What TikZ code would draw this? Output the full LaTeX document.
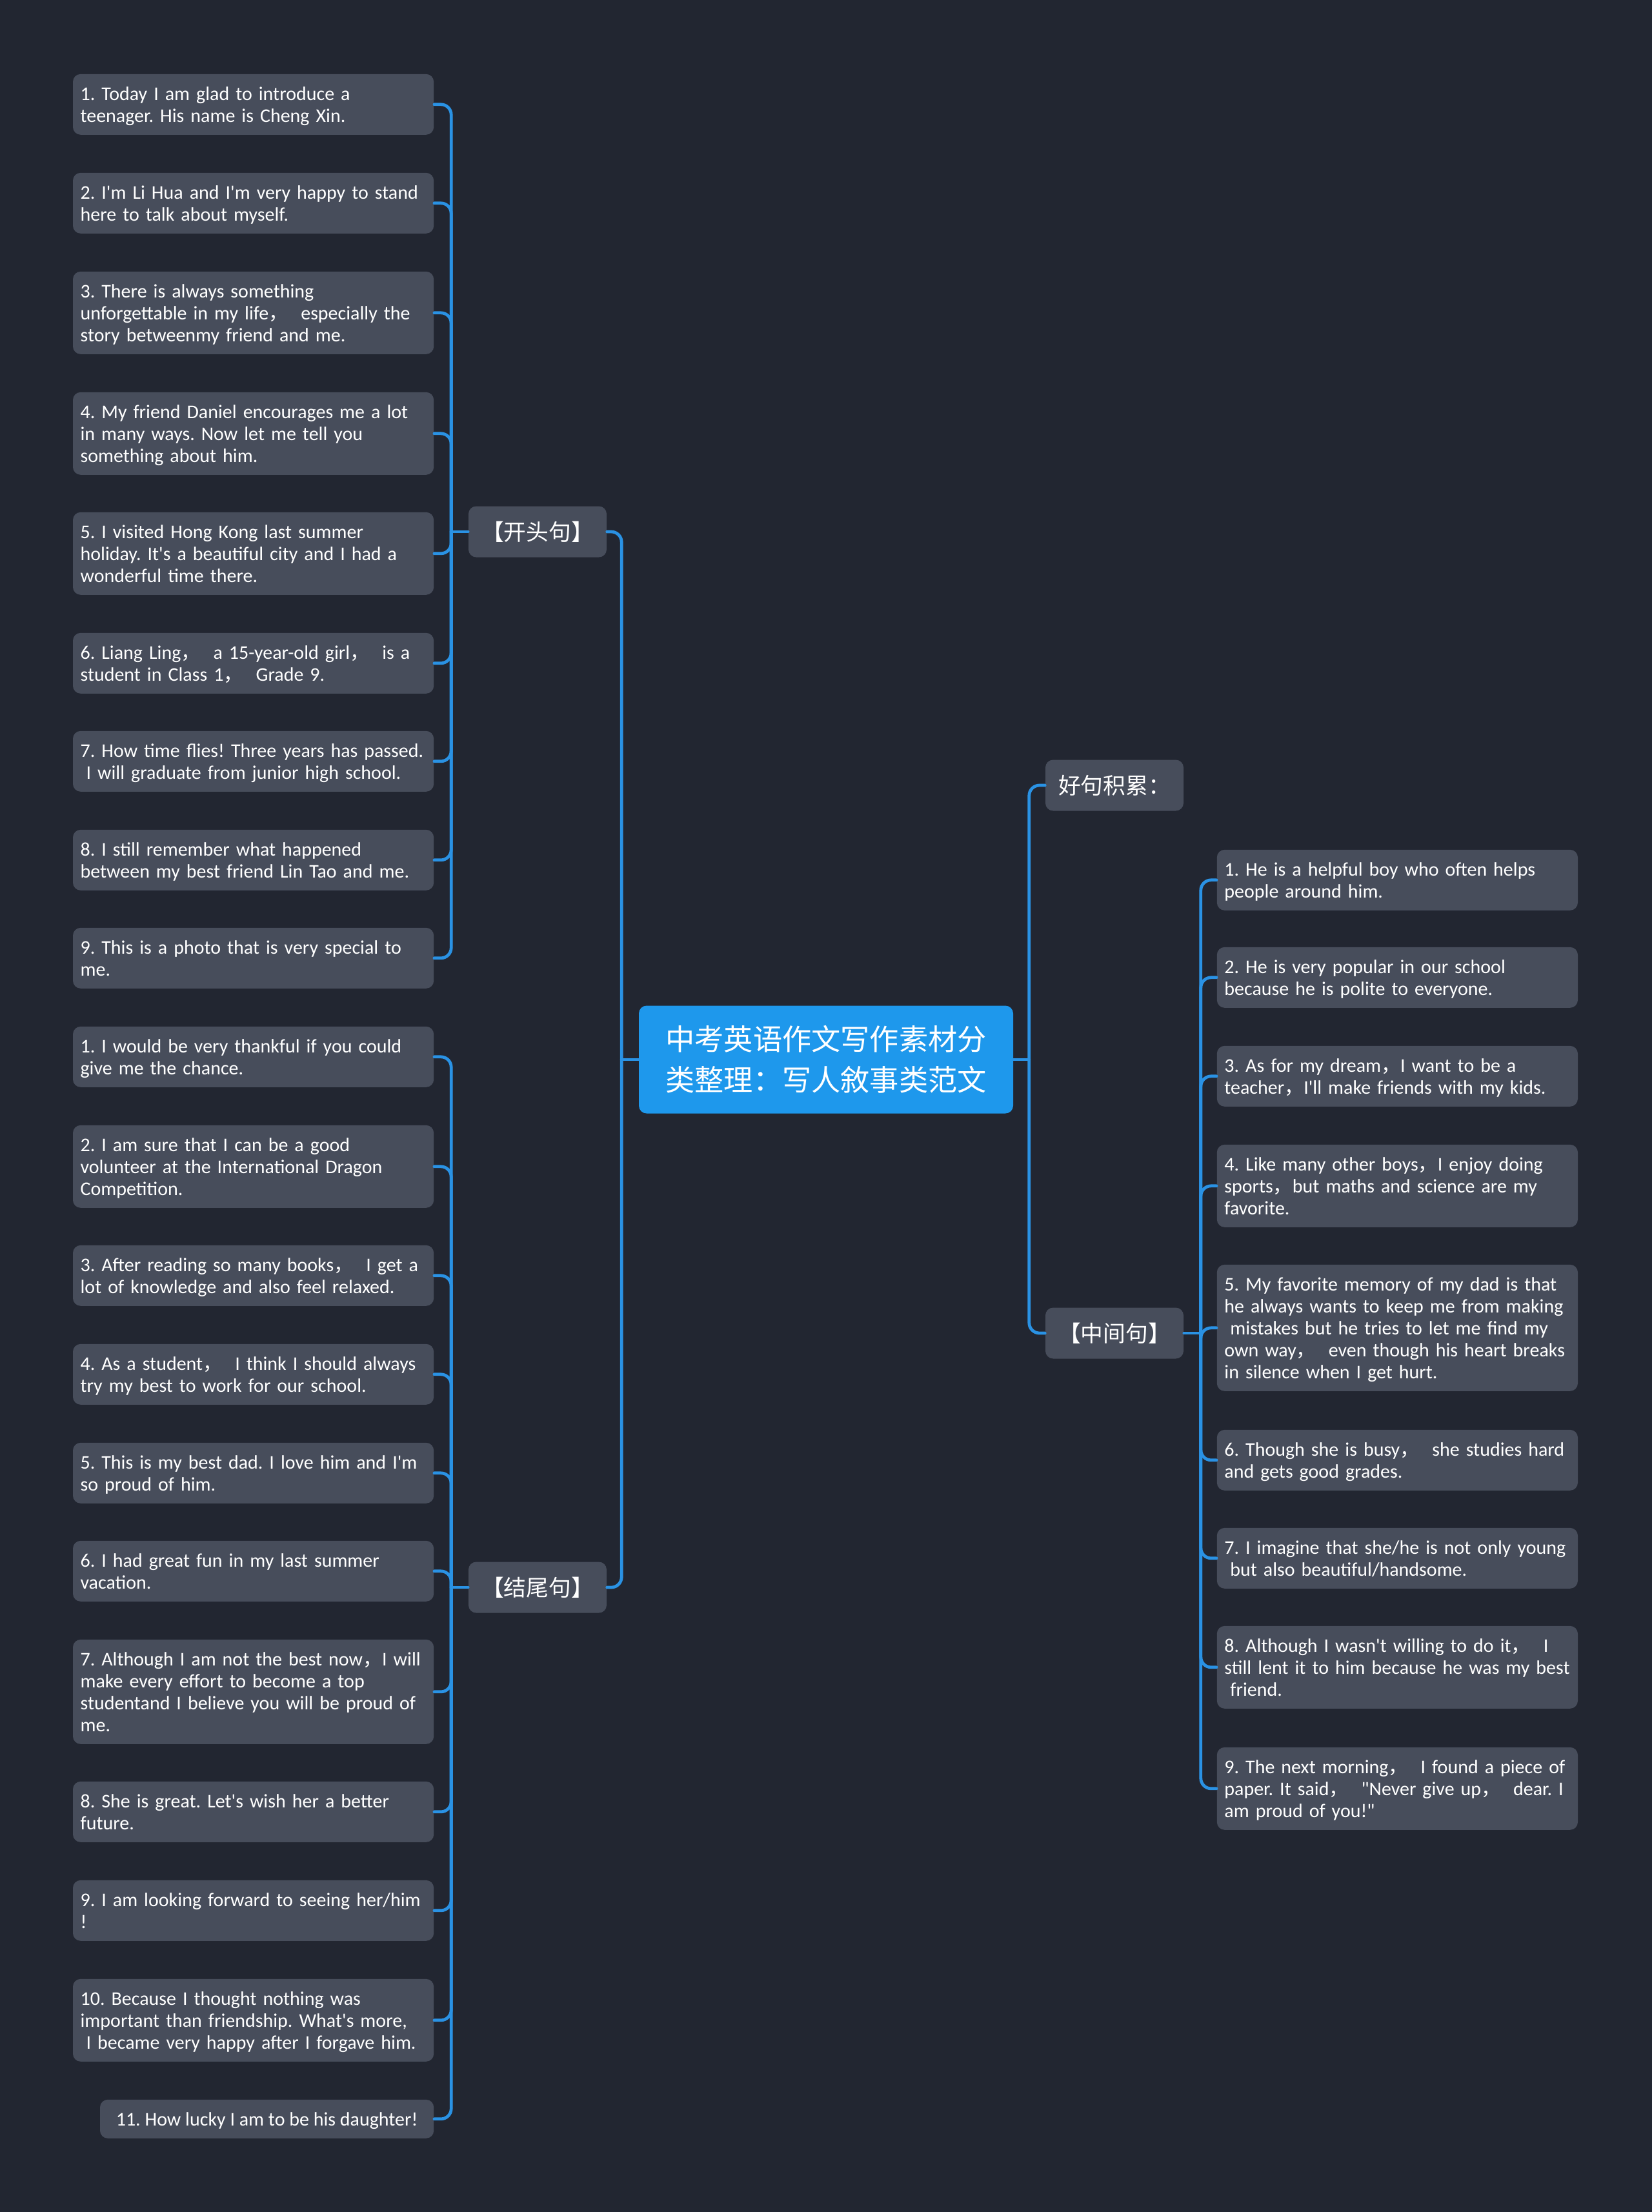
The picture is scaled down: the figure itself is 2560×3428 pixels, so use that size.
\documentclass[tikz,border=0pt]{standalone}
\usepackage{fontspec}
\setmainfont{Carlito}[Ligatures=TeXOff]
\newfontfamily\cjkfont{Noto Sans CJK SC}
\definecolor{bgdark}{HTML}{222631}
\definecolor{boxgray}{HTML}{474D5B}
\definecolor{rootblue}{HTML}{1E98EC}
\definecolor{linkblue}{HTML}{2A92E4}
\newcommand\lead{\hspace*{.3em}}
\newcommand\zc{{\cjkfont ，}}
\hyphenpenalty=10000 \exhyphenpenalty=10000
\begin{document}
\begin{tikzpicture}[x=0.25pt,y=-0.25pt,line cap=round,line join=round,
  leaf/.style={fill=boxgray,rounded corners=3pt,text=white,text width=134pt,align=left,
    inner xsep=2.9pt,inner ysep=3.25pt,font=\fontsize{7.5}{8.5}\selectfont\frenchspacing,
    execute at begin node=\rule{0pt}{6.95pt},execute at end node=\rule[-1.55pt]{0pt}{1.55pt}},
  cat/.style={fill=boxgray,rounded corners=3pt,text=white,minimum width=53.5pt,
    minimum height=19.75pt,inner sep=0pt,font=\cjkfont\fontsize{8.7}{10}\selectfont},
  link/.style={draw=linkblue,line width=1.2pt,rounded corners=4pt}]
  \fill[bgdark] (0,0) rectangle (2560,3428);

  \node[fill=rootblue,rounded corners=3pt,text=white,align=center,minimum width=145pt,
    minimum height=41.75pt,font=\cjkfont\fontsize{11.3}{15.75}\selectfont] (root) at (1280,1642)
    {中考英语作文写作素材分\\类整理：写人敘事类范文};

  \node[cat] (kt) at (833,824) {【开头句】};
  \node[cat] (jw) at (833,2460) {【结尾句】};
  \node[cat] (hj) at (1727,1217) {好句积累：};
  \node[cat] (zj) at (1727,2066) {【中间句】};

  \node[leaf,anchor=north east] (k1) at (673,114) {1. Today I am glad to introduce a\\teenager. His name is Cheng Xin.};
  \node[leaf,anchor=north east] (k2) at (673,267) {2. I'm Li Hua and I'm very happy to stand\\here to talk about myself.};
  \node[leaf,anchor=north east] (k3) at (673,420) {3. There is always something\\unforgettable in my life\zc\ \ especially the\\story betweenmy friend and me.};
  \node[leaf,anchor=north east] (k4) at (673,607) {4. My friend Daniel encourages me a lot\\in many ways. Now let me tell you\\something about him.};
  \node[leaf,anchor=north east] (k5) at (673,793) {5. I visited Hong Kong last summer\\holiday. It's a beautiful city and I had a\\wonderful time there.};
  \node[leaf,anchor=north east] (k6) at (673,980) {6. Liang Ling\zc\ \ a 15-year-old girl\zc\ \ is a\\student in Class 1\zc\ \ Grade 9.};
  \node[leaf,anchor=north east] (k7) at (673,1132) {7. How time flies! Three years has passed.\\\lead I will graduate from junior high school.};
  \node[leaf,anchor=north east] (k8) at (673,1285) {8. I still remember what happened\\between my best friend Lin Tao and me.};
  \node[leaf,anchor=north east] (k9) at (673,1437) {9. This is a photo that is very special to\\me.};

  \node[leaf,anchor=north east] (j1) at (673,1590) {1. I would be very thankful if you could\\give me the chance.};
  \node[leaf,anchor=north east] (j2) at (673,1743) {2. I am sure that I can be a good\\volunteer at the International Dragon\\Competition.};
  \node[leaf,anchor=north east] (j3) at (673,1929) {3. After reading so many books\zc\ \ I get a\\lot of knowledge and also feel relaxed.};
  \node[leaf,anchor=north east] (j4) at (673,2082) {4. As a student\zc\ \ I think I should always\\try my best to work for our school.};
  \node[leaf,anchor=north east] (j5) at (673,2235) {5. This is my best dad. I love him and I'm\\so proud of him.};
  \node[leaf,anchor=north east] (j6) at (673,2387) {6. I had great fun in my last summer\\vacation.};
  \node[leaf,anchor=north east] (j7) at (673,2540) {7. Although I am not the best now\zc I will\\make every effort to become a top\\studentand I believe you will be proud of\\me.};
  \node[leaf,anchor=north east] (j8) at (673,2760) {8. She is great. Let's wish her a better\\future.};
  \node[leaf,anchor=north east] (j9) at (673,2913) {9. I am looking forward to seeing her/him\\!};
  \node[leaf,anchor=north east] (j10) at (673,3066) {10. Because I thought nothing was\\important than friendship. What's more,\\\lead I became very happy after I forgave him.};
  \node[leaf,anchor=north east,text width={},minimum width=129.3pt] (j11) at (673,3253) {11. How lucky I am to be his daughter!};

  \node[leaf,anchor=north west] (z1) at (1885,1316) {1. He is a helpful boy who often helps\\people around him.};
  \node[leaf,anchor=north west] (z2) at (1885,1467) {2. He is very popular in our school\\because he is polite to everyone.};
  \node[leaf,anchor=north west] (z3) at (1885,1620) {3. As for my dream\zc I want to be a\\teacher\zc I'll make friends with my kids.};
  \node[leaf,anchor=north west] (z4) at (1885,1773) {4. Like many other boys\zc I enjoy doing\\sports\zc but maths and science are my\\favorite.};
  \node[leaf,anchor=north west] (z5) at (1885,1959) {5. My favorite memory of my dad is that\\he always wants to keep me from making\\\lead mistakes but he tries to let me find my\\own way\zc\ \ even though his heart breaks\\in silence when I get hurt.};
  \node[leaf,anchor=north west] (z6) at (1885,2215) {6. Though she is busy\zc\ \ she studies hard\\and gets good grades.};
  \node[leaf,anchor=north west] (z7) at (1885,2367) {7. I imagine that she/he is not only young\\\lead but also beautiful/handsome.};
  \node[leaf,anchor=north west] (z8) at (1885,2519) {8. Although I wasn't willing to do it\zc\ \ I\\still lent it to him because he was my best\\\lead friend.};
  \node[leaf,anchor=north west] (z9) at (1885,2707) {9. The next morning\zc\ \ I found a piece of\\paper. It said\zc\ \ "Never give up\zc\ \ dear. I\\am proud of you!"};

  \coordinate (root-l) at ([xshift=-6.5pt]root.west);
  \coordinate (root-r) at ([xshift=6pt]root.east);
  \coordinate (kt-j) at ([xshift=-6.5pt]kt.west);
  \coordinate (jw-j) at ([xshift=-6.5pt]jw.west);
  \coordinate (zj-j) at ([xshift=6.5pt]zj.east);

  \draw[link] (root.west) -- (root-l);
  \draw[link] (root.east) -- (root-r);
  \draw[link] (root-l) |- (kt.east);
  \draw[link] (root-l) |- (jw.east);
  \draw[link] (root-r) |- (hj.west);
  \draw[link] (root-r) |- (zj.west);
  \draw[link] (kt.west) -- (kt-j);
  \draw[link] (jw.west) -- (jw-j);
  \draw[link] (zj.east) -- (zj-j);
  \foreach \i in {1,...,9} \draw[link] (kt-j) |- (k\i.east);
  \foreach \i in {1,...,11} \draw[link] (jw-j) |- (j\i.east);
  \foreach \i in {1,...,9} \draw[link] (zj-j) |- (z\i.west);
\end{tikzpicture}
\end{document}
